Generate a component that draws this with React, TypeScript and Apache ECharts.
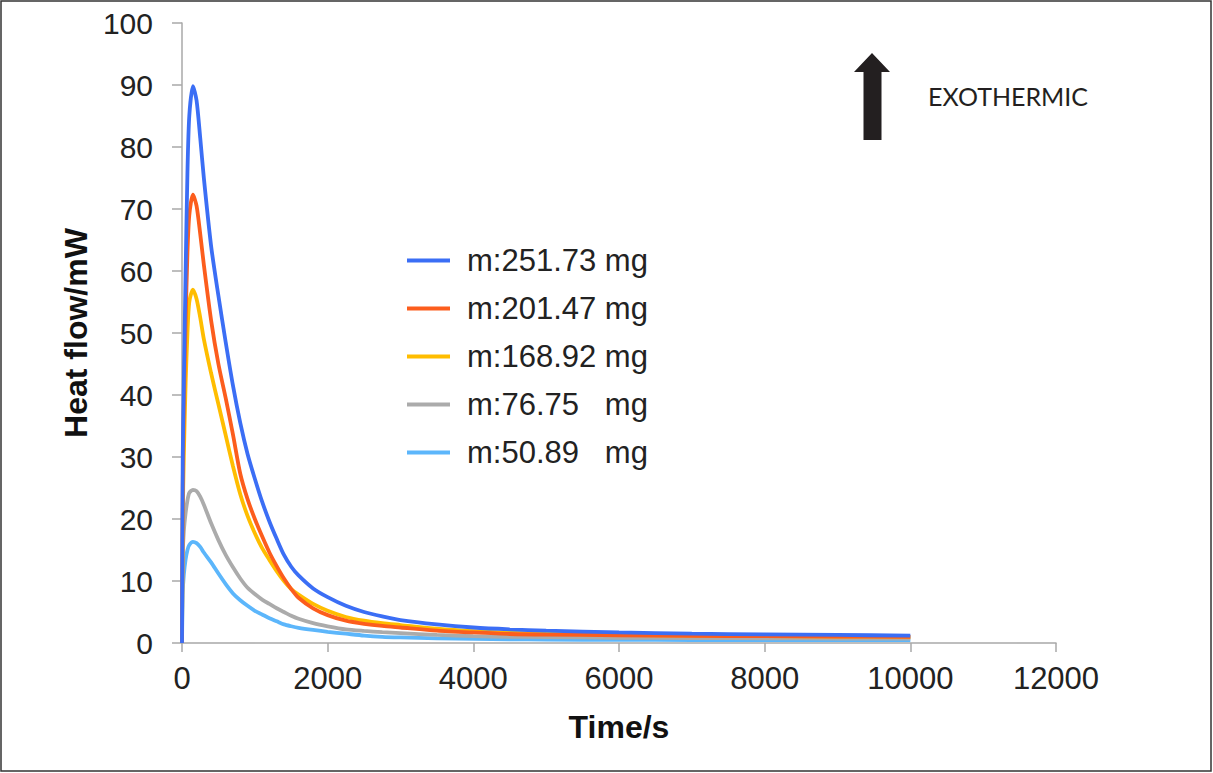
import React, { useEffect, useRef } from "react";
import * as echarts from "echarts";

const times = [0, 10, 25, 50, 75, 100, 150, 200, 250, 300, 400, 500, 600, 700, 800, 900, 1000, 1100, 1200, 1300, 1400, 1500, 1600, 1800, 2000, 2250, 2500, 2750, 3000, 3500, 4000, 4500, 5000, 6000, 7000, 8000, 9000, 10000];

const m25173 = [0, 30, 42, 60, 76, 85, 89.8, 87.5, 81.5, 75, 64, 56, 48.5, 41.5, 35.5, 30.5, 26.5, 22.8, 19.6, 16.8, 14.2, 12.3, 10.9, 8.8, 7.4, 6.0, 5.0, 4.3, 3.7, 3.0, 2.5, 2.2, 2.0, 1.7, 1.5, 1.4, 1.3, 1.2];
const m20147 = [0, 25, 38, 52, 63, 69, 72.3, 70.5, 66, 61, 52, 45, 39.5, 33.6, 27.3, 23.2, 20, 17.2, 14.6, 12.4, 10.4, 8.7, 7.3, 5.6, 4.5, 3.6, 3.1, 2.75, 2.5, 2.0, 1.7, 1.45, 1.35, 1.25, 1.15, 1.1, 1.05, 1.0];
const m16892 = [0, 20, 30, 42, 50, 55, 57, 55.5, 52.5, 49, 43.5, 38.5, 33.5, 28.5, 24, 20.5, 17.7, 15.3, 13.4, 11.6, 10.0, 8.7, 7.8, 6.3, 5.2, 4.2, 3.6, 3.2, 2.9, 2.3, 1.9, 1.65, 1.5, 1.3, 1.2, 1.1, 1.05, 1.0];
const m7675 = [0, 14, 18, 21, 23, 24.2, 24.7, 24.5, 23.6, 22.3, 19.3, 16.6, 14.2, 12.2, 10.4, 8.9, 7.9, 7.0, 6.3, 5.6, 5.0, 4.4, 3.9, 3.2, 2.7, 2.2, 1.95, 1.75, 1.6, 1.3, 1.1, 1.0, 0.95, 0.85, 0.8, 0.75, 0.72, 0.7];
const m5089 = [0, 8, 11, 13.5, 15, 15.8, 16.3, 16.1, 15.5, 14.6, 13.0, 11.2, 9.5, 8.0, 6.9, 6.0, 5.2, 4.6, 4.0, 3.5, 3.0, 2.7, 2.45, 2.1, 1.8, 1.5, 1.2, 1.0, 0.9, 0.75, 0.65, 0.6, 0.55, 0.5, 0.48, 0.46, 0.45, 0.45];

const seriesNames = ["m:251.73 mg", "m:201.47 mg", "m:168.92 mg", "m:76.75   mg", "m:50.89   mg"];
const seriesValues = [m25173, m20147, m16892, m7675, m5089];
const seriesColors = ["#3b6ef5", "#fc5d1d", "#ffbd00", "#ababab", "#5cb6fb"];

const xTicks = { min: 0, max: 12000, interval: 2000 };
const yTicks = { min: 0, max: 100, interval: 10 };

export default function App() {
  const ref = useRef<HTMLDivElement>(null);
  useEffect(() => {
    if (!ref.current) return;
    const chart = echarts.init(ref.current, undefined, { renderer: "svg" });
    const font = "'Liberation Sans', Arial, sans-serif";
    chart.setOption({
      animation: false,
      backgroundColor: "#ffffff",
      grid: { left: 182, right: 157, top: 23, bottom: 130, containLabel: false },
      legend: {
        orient: "vertical",
        left: 402,
        top: 240,
        itemWidth: 43,
        itemHeight: 4,
        itemGap: 17,
        icon: "rect",
        data: seriesNames,
        textStyle: { fontFamily: font, fontSize: 31, color: "#222", padding: [0, 0, 0, 12] },
      },
      xAxis: {
        type: "value",
        min: xTicks.min,
        max: xTicks.max,
        interval: xTicks.interval,
        name: "Time/s",
        nameLocation: "middle",
        nameGap: 68,
        nameTextStyle: { fontFamily: font, fontSize: 32, fontWeight: "bold", color: "#111" },
        axisLine: { show: true, lineStyle: { color: "#a8a8a8", width: 1.5 } },
        axisTick: { show: true, length: 9, lineStyle: { color: "#a8a8a8", width: 1.5 } },
        axisLabel: {
          fontFamily: font,
          fontSize: 31,
          color: "#222",
          margin: 20,
          formatter: (v: number) => String(v),
        },
        splitLine: { show: false },
      },
      yAxis: {
        type: "value",
        min: yTicks.min,
        max: yTicks.max,
        interval: yTicks.interval,
        name: "Heat flow/mW",
        nameLocation: "middle",
        nameGap: 78,
        nameRotate: 90,
        nameTextStyle: { fontFamily: font, fontSize: 32, fontWeight: "bold", color: "#111" },
        axisLine: { show: true, lineStyle: { color: "#a8a8a8", width: 1.5 } },
        axisTick: { show: true, length: 10, lineStyle: { color: "#a8a8a8", width: 1.5 } },
        axisLabel: {
          fontFamily: font,
          fontSize: 30,
          color: "#222",
          margin: 29,
          formatter: (v: number) => String(v),
        },
        splitLine: { show: false },
      },
      series: seriesNames.map((name, i) => ({
        name,
        type: "line",
        data: times.map((t, j) => [t, seriesValues[i][j]]),
        smooth: 0.25,
        showSymbol: false,
        symbol: "none",
        lineStyle: { color: seriesColors[i], width: 3.8 },
        itemStyle: { color: seriesColors[i] },
        z: 10 - i,
      })),
      graphic: [
        {
          type: "rect",
          shape: { x: 1, y: 1, width: 1210, height: 770 },
          style: { fill: "none", stroke: "#333", lineWidth: 1.5 },
          silent: true,
        },
        {
          type: "polygon",
          shape: {
            points: [
              [872, 53],
              [890, 72],
              [881.5, 72],
              [881.5, 140],
              [863.5, 140],
              [863.5, 72],
              [854, 72],
            ],
          },
          style: { fill: "#231f20" },
        },
        {
          type: "text",
          x: 928,
          y: 96,
          style: {
            text: "EXOTHERMIC",
            font: "25px Lato, 'Open Sans', sans-serif",
            fill: "#231f20",
            verticalAlign: "middle",
            align: "left",
          },
        },
      ],
    });
    return () => chart.dispose();
  }, []);
  return (
    <div
      ref={ref}
      style={{ position: "absolute", left: 0, top: 0, width: 1213, height: 773 }}
    />
  );
}
